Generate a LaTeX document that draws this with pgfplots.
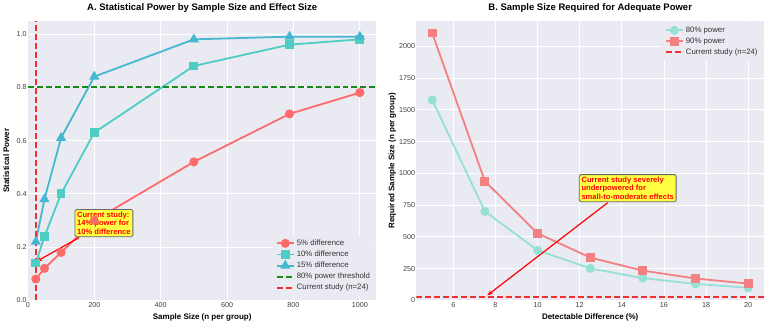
\documentclass[border=0pt]{standalone}
\usepackage{fontspec}
\setmainfont{Liberation Sans}
\usepackage{pgfplots}
\pgfplotsset{compat=1.18}
\usetikzlibrary{arrows.meta}
\definecolor{bg}{HTML}{EAEAF2}
\definecolor{cA}{HTML}{FF6B6B}
\definecolor{cB}{HTML}{4ECDC4}
\definecolor{cC}{HTML}{45B7D1}
\definecolor{cD}{HTML}{95E1D3}
\definecolor{cE}{HTML}{F38181}
\definecolor{thrgreen}{HTML}{1A8A1A}
\definecolor{curred}{HTML}{F03030}
\definecolor{boxy}{HTML}{FFFF44}
\tikzset{
  refline/.style={line width=2pt, dash pattern=on 6pt off 3pt, line cap=butt},
  annot/.style={fill=boxy, draw=black!60, line width=0.8pt, rounded corners=1.5pt, text=red, align=left, inner sep=2.2pt,
    font=\bfseries\fontsize{7.6}{8.6}\selectfont},
  arr/.style={red, line width=1.2pt, -{Stealth[length=5.5pt,width=4.5pt]}},
}
\begin{document}
\begin{tikzpicture}
\pgfplotsset{common/.style={
  scale only axis,
  axis background/.style={fill=bg},
  axis line style={draw=none},
  grid=major,
  major grid style={white, line width=0.8pt},
  tick style={draw=none},
  tick label style={font=\fontsize{7.2}{8}\selectfont, text=black!75},
  yticklabel style={inner sep=1pt},
  xticklabel style={inner sep=1.5pt},
  label style={font=\bfseries\fontsize{8}{9.5}\selectfont},
  title style={font=\bfseries\fontsize{9.5}{11}\selectfont, anchor=south, yshift=-1pt},
  /pgf/number format/assume math mode=true,
  /pgf/number format/set thousands separator={},
  legend style={fill=bg, draw=none, font=\fontsize{7.8}{9}\selectfont, text=black!80, row sep=0pt, inner sep=2.5pt},
  legend cell align=left,
  every axis plot/.append style={line width=1.8pt},
}}
\begin{axis}[common,
  at={(27pt,24pt)}, anchor=south west, width=349pt, height=280pt,
  xmin=0, xmax=1050, ymin=0, ymax=1.05,
  xtick={0,200,...,1000}, ytick={0,0.2,0.4,0.6,0.8,1.0},
  yticklabel style={/pgf/number format/.cd, fixed, fixed zerofill, precision=1},
  title={A. Statistical Power by Sample Size and Effect Size},
  xlabel={Sample Size (n per group)},
  ylabel={Statistical Power},
  xlabel style={at={(axis description cs:0.5,0)}, anchor=center, yshift=-17pt},
  ylabel style={at={(axis description cs:-0.062,0.5)}, anchor=center},
  legend style={at={(0.995,0.015)}, anchor=south east},
]
\addplot[color=cA, mark=*, mark size=3.6pt] coordinates {(24,0.08) (50,0.12) (100,0.18) (200,0.30) (500,0.52) (788,0.70) (1000,0.78)};
\addlegendentry{5\% difference}
\addplot[color=cB, mark=square*, mark size=3.5pt] coordinates {(24,0.14) (50,0.24) (100,0.40) (200,0.63) (500,0.88) (788,0.96) (1000,0.98)};
\addlegendentry{10\% difference}
\addplot[color=cC, mark=triangle*, mark size=4.1pt] coordinates {(24,0.22) (50,0.38) (100,0.61) (200,0.84) (500,0.98) (788,0.99) (1000,0.99)};
\addlegendentry{15\% difference}
\addplot[color=thrgreen, refline] coordinates {(0,0.8) (1050,0.8)};
\addlegendentry{80\% power threshold}
\addplot[color=curred, refline] coordinates {(24,0) (24,1.05)};
\addlegendentry{Current study (n=24)}
\draw[arr] (axis cs:155,0.236) -- (axis cs:26,0.146);
\node[annot] at (axis cs:229,0.29) {Current study:\\14\% power for\\10\% difference};
\end{axis}
\begin{axis}[common,
  at={(416pt,24pt)}, anchor=south west, width=348pt, height=280pt,
  xmin=4.25, xmax=20.75, ymin=0, ymax=2202,
  xtick={6,8,...,20}, ytick={0,250,...,2000},
  title={B. Sample Size Required for Adequate Power},
  xlabel={Detectable Difference (\%)},
  ylabel={Required Sample Size (n per group)},
  xlabel style={at={(axis description cs:0.5,0)}, anchor=center, yshift=-17pt},
  ylabel style={at={(axis description cs:-0.069,0.5)}, anchor=center},
  legend style={at={(0.995,0.995)}, anchor=north east},
]
\addplot[color=cD, mark=*, mark size=3.6pt] coordinates {(5,1578) (7.5,701) (10,394) (12.5,252) (15,175) (17.5,130) (20,99)};
\addlegendentry{80\% power}
\addplot[color=cE, mark=square*, mark size=3.5pt] coordinates {(5,2105) (7.5,938) (10,528) (12.5,337) (15,234) (17.5,172) (20,132)};
\addlegendentry{90\% power}
\addplot[color=curred, refline] coordinates {(4.25,24) (20.75,24)};
\addlegendentry{Current study (n=24)}
\draw[arr] (axis cs:13.33,769) -- (axis cs:7.62,40);
\node[annot] at (axis cs:14.28,883) {Current study severely\\underpowered for\\small-to-moderate effects};
\end{axis}
\path[use as bounding box] (0pt,0pt) rectangle (767pt,321pt);
\end{tikzpicture}
\end{document}
